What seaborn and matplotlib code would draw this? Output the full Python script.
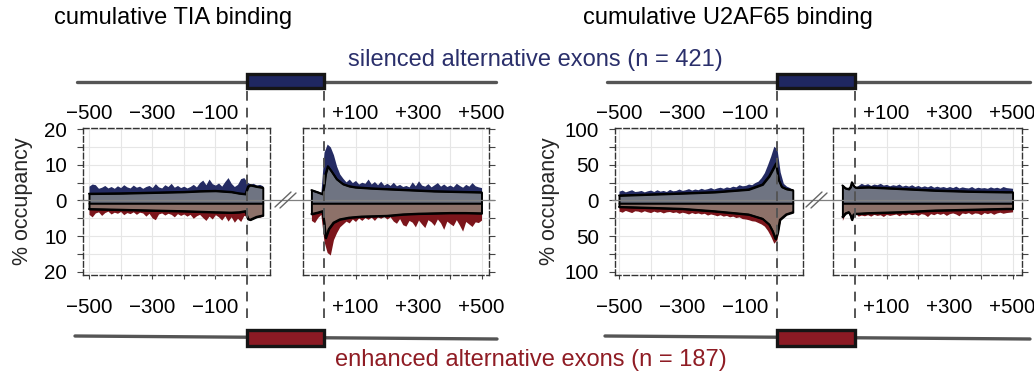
import numpy as np
import matplotlib
matplotlib.use("Agg")
import matplotlib.pyplot as plt
import seaborn as sns
from matplotlib.lines import Line2D
from matplotlib.patches import Rectangle
from matplotlib.ticker import FixedLocator

# ---------------------------------------------------------------- data
# TIA binding, upstream intron (nt relative to exon start)
tia_up_x = list(range(-500, 60, 10))
tia_up_sil_raw = [4.0, 4.6, 4.4, 3.4, 3.7, 4.2, 3.5, 3.9, 3.4, 4.1,
                  3.6, 4.4, 3.8, 3.5, 4.3, 3.7, 4.0, 3.4, 3.9, 4.2,
                  3.6, 4.7, 3.8, 3.5, 4.4, 3.9, 4.8, 3.7, 4.2, 3.6,
                  4.0, 3.5, 3.9, 4.5, 3.8, 5.0, 5.7, 4.4, 6.0, 4.7,
                  4.3, 4.9, 4.0, 5.3, 6.4, 4.8, 3.9, 4.5, 6.1, 6.4,
                  5.2, 4.6, 4.8, 4.3, 4.5, 4.1]
tia_up_enh_raw = [3.9, 4.6, 3.5, 3.2, 4.2, 3.4, 3.0, 3.8, 3.3, 3.6,
                  3.1, 4.0, 3.4, 3.7, 3.2, 3.9, 3.3, 3.5, 4.4, 3.6,
                  4.9, 5.4, 3.8, 3.5, 4.1, 3.6, 3.9, 4.6, 3.7, 4.2,
                  3.8, 4.4, 3.9, 5.0, 4.3, 3.9, 4.8, 5.6, 4.4, 5.2,
                  4.0, 4.6, 5.5, 4.3, 5.8, 4.6, 6.1, 5.0, 5.9, 4.2,
                  4.5, 4.9, 4.6, 4.4, 4.7, 4.3]
tia_up_sil_sm_x = [-500, -400, -300, -200, -150, -100, -50, -25, -5, 3, 10, 30, 50]
tia_up_sil_sm = [1.9, 2.0, 2.2, 2.4, 2.6, 2.7, 2.4, 2.0, 1.8, 3.9, 4.3, 3.9, 3.6]
tia_up_enh_sm_x = [-500, -400, -300, -200, -100, -50, -25, -5, 3, 10, 30, 50]
tia_up_enh_sm = [2.4, 2.6, 2.8, 3.0, 3.3, 3.4, 3.3, 3.0, 5.2, 5.4, 4.6, 4.2]

# TIA binding, downstream intron (nt relative to exon end)
tia_dn_x = list(range(-40, 510, 10))
tia_dn_sil_raw = [3.0, 2.6, 2.3, 2.0, 13.5, 15.8, 15.0, 12.8, 9.6, 7.4,
                  6.2, 5.2, 6.0, 5.0, 5.6, 4.6, 5.1, 4.8, 6.0, 4.6,
                  5.3, 4.4, 5.4, 4.3, 4.8, 4.2, 5.1, 4.1, 4.5, 3.9,
                  4.2, 3.8, 5.2, 4.1, 5.5, 4.3, 4.0, 4.7, 3.8, 4.4,
                  5.0, 4.0, 4.6, 3.9, 4.3, 3.8, 4.8, 4.2, 3.7, 4.5,
                  4.0, 5.0, 4.1, 3.8, 3.6]
tia_dn_enh_raw = [5.6, 6.2, 4.8, 3.9, 11.5, 14.6, 15.3, 11.0, 9.0, 7.4,
                  6.6, 5.8, 6.3, 5.2, 5.9, 4.9, 5.6, 4.8, 5.3, 4.7,
                  5.6, 4.6, 5.0, 4.5, 5.2, 4.6, 5.8, 6.4, 5.1, 6.8,
                  7.2, 5.6, 6.1, 7.4, 5.5, 6.6, 7.6, 5.4, 6.0, 7.0,
                  5.2, 6.3, 8.1, 5.8, 6.5, 7.1, 5.4, 6.9, 8.6, 5.9,
                  6.6, 7.3, 6.0, 6.2, 5.5]
tia_dn_sil_sm_x = [-40, -20, -5, 0, 5, 12, 25, 40, 60, 80, 100, 150, 200, 250, 300, 350, 400, 450, 500]
tia_dn_sil_sm = [2.9, 2.3, 1.8, 4.0, 7.5, 9.6, 8.0, 6.0, 4.6, 4.0, 3.7, 3.4, 3.2, 3.0, 2.8, 2.6, 2.5, 2.4, 2.3]
tia_dn_enh_sm_x = [-40, -20, -5, 0, 5, 15, 30, 50, 80, 120, 200, 250, 300, 350, 400, 450, 500]
tia_dn_enh_sm = [3.8, 3.4, 3.0, 6.0, 10.5, 8.0, 6.2, 5.3, 4.8, 4.5, 4.3, 3.9, 3.7, 3.6, 3.5, 3.5, 3.6]

# U2AF65 binding, upstream intron
u2_up_x = list(range(-500, 60, 10))
u2_up_sil_raw = [13, 14.5, 12, 13.5, 15, 12.5, 13, 14, 12, 13.5,
                 14.5, 12.5, 15, 13, 14, 12.5, 15.5, 13.5, 14, 16,
                 14, 15, 16.5, 14.5, 16, 15, 17, 15.5, 16.5, 18,
                 16, 17.5, 18.5, 17, 19, 18, 20, 19, 22, 20.5,
                 21, 23, 22, 25, 27, 32, 39, 50, 62, 76,
                 72, 40, 24, 20, 18, 15]
u2_up_enh_raw = [15, 16.5, 14, 15.5, 17, 14.5, 15, 16.5, 14.5, 16,
                 17, 15, 16.5, 15.5, 17.5, 16, 15.5, 17, 16, 18,
                 16.5, 17.5, 19, 17, 18.5, 17.5, 19, 18, 20.5, 19,
                 20, 21.5, 20, 22, 21, 23, 22, 24, 23, 25.5,
                 26, 27, 28.5, 29, 31, 33, 36, 42, 50, 60,
                 55, 28, 21, 18, 17, 16]
u2_up_sil_sm_x = [-500, -400, -300, -197, -90, -46, -25, -14, -3, 5, 15, 30, 50]
u2_up_sil_sm = [7, 8.5, 10, 11.7, 15.4, 22.4, 34, 43, 52, 29, 19, 16, 14.5]
u2_up_enh_sm_x = [-500, -400, -300, -200, -90, -46, -25, -14, -5, 2, 9, 29, 50]
u2_up_enh_sm = [9, 10.3, 11.7, 15, 19.6, 25.6, 33.6, 43, 54, 45, 27, 19.5, 16.5]

# U2AF65 binding, downstream intron
u2_dn_x = list(range(-40, 510, 10))
u2_dn_sil_raw = [16, 14, 15, 22, 18, 21, 24, 22, 23.5, 21,
                 23, 22, 24, 21.5, 22.5, 20.5, 22, 21, 23, 20,
                 21.5, 20, 22, 19.5, 21, 19, 20.5, 19, 21, 18.5,
                 20, 18.5, 19.5, 18, 19.5, 18, 20, 17.5, 19, 18,
                 17.5, 19.5, 17, 18.5, 17.5, 18, 17, 19, 17.5, 18.5,
                 17, 19.5, 18, 17.5, 17]
u2_dn_enh_raw = [28, 17, 15, 24, 17, 22, 20.5, 21.5, 20, 22,
                 19.5, 21, 20, 22.5, 19.5, 21, 20, 19, 21.5, 19,
                 20.5, 18.5, 20, 19, 21, 18.5, 19.5, 22.5, 18.5, 20,
                 18, 19.5, 18, 21, 18.5, 17.5, 19, 21.5, 17.5, 18.5,
                 17, 19.5, 17.5, 18, 20, 17, 18.5, 17, 19.5, 17.5,
                 16.5, 18, 17, 16.5, 16]
u2_dn_sil_sm_x = [-40, -30, -20, -14, -10, -5, 0, 5, 42, 148, 254, 360, 480, 500]
u2_dn_sil_sm = [21, 17, 16, 19, 25.5, 21, 18.5, 18, 18.5, 16.3, 14, 12.6, 11.7, 11.7]
u2_dn_enh_sm_x = [-40, -30, -20, -14, -10, -5, 0, 5, 42, 148, 254, 360, 480, 500]
u2_dn_enh_sm = [23, 18, 16.3, 21, 27, 20, 18.6, 18.6, 17.7, 16.3, 14, 13, 11.7, 11.7]

up_ticks = [-500, -300, -100]
up_labels = ["\u2212500", "\u2212300", "\u2212100"]
dn_ticks = [100, 300, 500]
dn_labels = ["+100", "+300", "+500"]
tia_yticks = [-20, -10, 0, 10, 20]
tia_ylabels = ["20", "10", "0", "10", "20"]
u2_yticks = [-100, -50, 0, 50, 100]
u2_ylabels = ["100", "50", "0", "50", "100"]

titles = ["cumulative TIA binding", "cumulative U2AF65 binding"]
sil_label = "silenced alternative exons (n = 421)"
enh_label = "enhanced alternative exons (n = 187)"

# ---------------------------------------------------------------- style
NAVY = "#242b63"
RED = "#7c151b"
GRAY_UP = "#6f7482"
GRAY_LO = "#8d7169"
TXT_NAVY = "#2a2f6b"
TXT_RED = "#8f1c24"
EXON_NAVY = "#1f2761"
EXON_RED = "#8c1a24"

sns.set_theme(style="white")
plt.rcParams["font.family"] = ["Liberation Sans", "DejaVu Sans"]

W, H = 1034, 378
fig = plt.figure(figsize=(W / 100, H / 100), dpi=100)


def fx(px):
    return px / W


def fy(py):
    return 1 - py / H


def add_ax(x0, x1, y0, y1):
    return fig.add_axes([fx(x0), fy(y1), (x1 - x0) / W, (y1 - y0) / H])


ax1 = add_ax(83, 270, 128, 275)
ax2 = add_ax(303, 489, 128, 275)
ax3 = add_ax(615, 803, 128, 275)
ax4 = add_ax(833, 1022, 128, 275)

ax1.set_xlim(-519, 72.8)
ax2.set_xlim(-66.7, 523.8)
ax3.set_xlim(-512.7, 82.3)
ax4.set_xlim(-69.8, 530)
for a in (ax1, ax2):
    a.set_ylim(-20.9, 20.3)
for a in (ax3, ax4):
    a.set_ylim(-104.5, 101.5)


def draw(ax, x, sraw, eraw, sx, sm, ex, em, base):
    ax.fill_between(x, base, sraw, color=NAVY, lw=0, zorder=2)
    ax.fill_between(x, base, -np.asarray(eraw), color=RED, lw=0, zorder=2)
    ax.fill_between(sx, base, sm, facecolor=GRAY_UP, edgecolor="black", lw=1.4, zorder=3)
    ax.fill_between(ex, base, -np.asarray(em), facecolor=GRAY_LO, edgecolor="black", lw=1.4, zorder=3)
    sns.lineplot(x=sx, y=sm, ax=ax, color="black", lw=1.4, zorder=4, legend=False)
    sns.lineplot(x=ex, y=-np.asarray(em), ax=ax, color="black", lw=1.4, zorder=4, legend=False)


draw(ax1, tia_up_x, tia_up_sil_raw, tia_up_enh_raw, tia_up_sil_sm_x, tia_up_sil_sm,
     tia_up_enh_sm_x, tia_up_enh_sm, -0.8)
draw(ax2, tia_dn_x, tia_dn_sil_raw, tia_dn_enh_raw, tia_dn_sil_sm_x, tia_dn_sil_sm,
     tia_dn_enh_sm_x, tia_dn_enh_sm, -0.8)
draw(ax3, u2_up_x, u2_up_sil_raw, u2_up_enh_raw, u2_up_sil_sm_x, u2_up_sil_sm,
     u2_up_enh_sm_x, u2_up_enh_sm, -4)
draw(ax4, u2_dn_x, u2_dn_sil_raw, u2_dn_enh_raw, u2_dn_sil_sm_x, u2_dn_sil_sm,
     u2_dn_enh_sm_x, u2_dn_enh_sm, -4)

TICK_FS = 14.8
for ax, xt, xl, yt, yl, side in [
    (ax1, up_ticks, up_labels, tia_yticks, tia_ylabels, "left"),
    (ax2, dn_ticks, dn_labels, tia_yticks, tia_ylabels, "right"),
    (ax3, up_ticks, up_labels, u2_yticks, u2_ylabels, "left"),
    (ax4, dn_ticks, dn_labels, u2_yticks, u2_ylabels, "right"),
]:
    ax.set_xlabel("")
    ax.set_ylabel("")
    ax.set_xticks(xt, xl)
    ax.xaxis.set_minor_locator(FixedLocator([t + 100 for t in xt]))
    ax.set_yticks(yt, yl)
    ax.yaxis.set_minor_locator(FixedLocator([(yt[i] + yt[i + 1]) / 2 for i in range(len(yt) - 1)]))
    ax.tick_params(axis="x", which="both", bottom=True, top=False, labelbottom=True,
                   labeltop=False, length=3, width=0.8, color="#444", pad=13.5,
                   labelsize=TICK_FS, labelcolor="black")
    if side == "left":
        ax.tick_params(axis="y", which="both", left=True, right=False, labelleft=True,
                       length=4.5, width=0.8, color="#444", pad=7, labelsize=TICK_FS,
                       labelcolor="black")
    else:
        ax.tick_params(axis="y", which="both", left=False, right=True, labelleft=False,
                       labelright=False, length=4, width=0.8, color="#444")
    sec = ax.secondary_xaxis("top")
    sec.set_xticks(xt, xl)
    sec.tick_params(axis="x", length=0, pad=3.5, labelsize=TICK_FS, labelcolor="black")
    for s in sec.spines.values():
        s.set_visible(False)
    ax.grid(True, which="both", color="#e6e6e6", lw=0.8)
    ax.set_axisbelow(True)
    for s in ax.spines.values():
        s.set_visible(True)
        s.set_linestyle((0, (4, 2)))
        s.set_color("#333333")
        s.set_linewidth(1.0)

ax1.set_ylabel("% occupancy", fontsize=15.5)
ax1.yaxis.set_label_coords(-0.27, 0.5)
ax3.set_ylabel("% occupancy", fontsize=15.5)
ax3.yaxis.set_label_coords(-0.295, 0.5)

# --------------------------------------------------- figure-level decoration
inv = fig.transFigure.inverted()


def to_fig(ax, x, y):
    return inv.transform(ax.transData.transform((x, y)))


xa = to_fig(ax1, 0, 0)[0]
xb = to_fig(ax2, 0, 0)[0]
xc = to_fig(ax3, 0, 0)[0]
xd = to_fig(ax4, 0, 0)[0]
y0 = to_fig(ax1, 0, 0)[1]

# zero lines
for l, r in [(80, 494), (612, 1026)]:
    fig.add_artist(Line2D([fx(l), fx(r)], [y0, y0], color="#808080", lw=0.9, zorder=5))

# axis-break marks
for (a0, a1) in [((275, 207), (291, 192)), ((280, 208), (296, 193)),
                 ((806, 207), (822, 192)), ((811, 208), (827, 193))]:
    fig.add_artist(Line2D([fx(a0[0]), fx(a1[0])], [fy(a0[1]), fy(a1[1])],
                          color="#666666", lw=1.0, zorder=5))

# exon diagrams
for (l, r, xs, xe) in [(77, 496, xa, xb), (607, 1030, xc, xd)]:
    fig.add_artist(Line2D([fx(l), fx(r)], [fy(82), fy(82)], color="#555555", lw=2.4, zorder=5))
    fig.add_artist(Rectangle((xs, fy(88)), xe - xs, 14 / H, transform=fig.transFigure,
                             facecolor=EXON_NAVY, edgecolor="#151515", lw=2.4, zorder=6))
for (l, r, xs, xe) in [(75, 497, xa, xb), (605, 1030, xc, xd)]:
    fig.add_artist(Line2D([fx(l), fx(r)], [fy(336), fy(339)], color="#555555", lw=2.4, zorder=5))
    fig.add_artist(Rectangle((xs, fy(346)), xe - xs, 16 / H, transform=fig.transFigure,
                             facecolor=EXON_RED, edgecolor="#151515", lw=2.4, zorder=6))

# dashed exon-boundary lines
for xv in (xa, xb, xc, xd):
    fig.add_artist(Line2D([xv, xv], [fy(91), fy(318)], color="#555555", lw=1.4,
                          linestyle=(0, (5, 3.6)), zorder=7))

# texts
fig.text(fx(173), fy(18), titles[0], ha="center", va="center", fontsize=17, color="black")
fig.text(fx(728), fy(18), titles[1], ha="center", va="center", fontsize=17, color="black")
fig.text(fx(535), fy(60), sil_label, ha="center", va="center", fontsize=17, color=TXT_NAVY)
fig.text(fx(531), fy(360), enh_label, ha="center", va="center", fontsize=17, color=TXT_RED)

fig.savefig("out.png", dpi=100)
